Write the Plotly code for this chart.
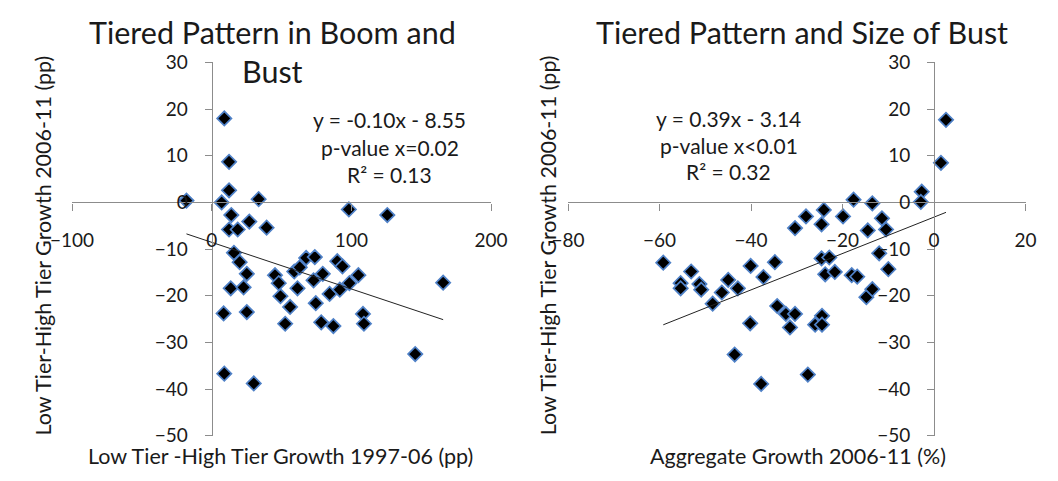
import plotly.graph_objects as go

W, H = 1058, 481
FONT = "Lato"
INK = "#1a1a1a"
AXIS_GREY = "#8c8c8c"

# Left panel: boom-period tier gap (x) vs bust-period tier gap (y)
left_x = [-18.1, 9.0, 12.4, 12.4, 7.1, 33.6, 14.0, 12.4, 18.6, 26.9, 39.3, 98.2, 125.7,
          15.9, 20.0, 25.1, 13.6, 22.8, 8.5, 25.1, 9.0, 30.1, 45.3, 48.0, 49.2, 56.1,
          52.6, 59.1, 63.0, 61.4, 67.6, 73.8, 72.9, 79.5, 74.5, 78.4, 84.4, 87.1, 89.9,
          93.6, 91.7, 98.6, 105.0, 108.3, 109.0, 145.7, 165.7]
left_y = [0.4, 18.0, 8.7, 2.6, 0.0, 0.7, -2.7, -5.8, -5.8, -4.1, -5.4, -1.5, -2.7,
          -10.8, -12.8, -15.3, -18.4, -18.2, -23.8, -23.5, -36.7, -38.8, -15.6, -17.3,
          -20.1, -22.4, -26.0, -14.8, -13.9, -18.4, -11.9, -11.7, -16.7, -15.3, -21.6,
          -25.7, -19.6, -26.5, -12.6, -13.7, -18.7, -17.3, -15.6, -23.9, -26.0, -32.5,
          -17.2]

# Right panel: aggregate growth (x) vs bust-period tier gap (y)
right_x = [2.6, 1.5, -2.7, -2.9, -17.6, -13.5, -24.1, -28.0, -19.9, -11.4, -30.4, -24.6,
           -14.5, -10.5, -12.0, -59.2, -53.1, -55.4, -55.4, -51.3, -50.9, -45.0, -46.4,
           -42.9, -48.4, -40.1, -37.3, -34.8, -40.2, -43.6, -37.8, -34.3, -32.4, -30.4,
           -31.5, -27.6, -26.0, -24.5, -24.5, -24.6, -22.9, -23.8, -21.7, -18.0, -16.8,
           -14.8, -13.5, -10.0]
right_y = [17.7, 8.5, 2.3, 0.1, 0.6, -0.2, -1.6, -3.0, -3.0, -3.4, -5.5, -4.7, -6.0,
           -5.8, -10.9, -12.9, -14.8, -17.3, -18.4, -17.5, -18.7, -16.6, -19.3, -18.4,
           -21.7, -13.6, -16.0, -12.8, -25.9, -32.6, -38.9, -22.2, -23.9, -23.9, -26.8,
           -36.9, -26.2, -24.3, -26.2, -12.0, -11.8, -15.4, -14.9, -15.6, -15.9, -20.3,
           -18.6, -14.3]

# Regression results printed on each panel
left_fit = (-0.10, -8.55)
right_fit = (0.39, -3.14)
left_stats = ["y = -0.10x - 8.55", "p-value x=0.02", "R\u00b2 = 0.13"]
right_stats = ["y = 0.39x - 3.14", "p-value x<0.01", "R\u00b2 = 0.32"]

left_xrange, right_xrange = [-100, 200], [-80, 20]
yrange = [-50, 30]

# plot-area placement in pixels
L_X0, L_X1 = 52, 487
R_X0, R_X1 = 567, 1042
Y_TOP, Y_BOT = 53, 445

def fx(px):
    return px / W

def fy(py):
    return 1 - py / H

ydom = [fy(Y_BOT), fy(Y_TOP)]
ldom = [fx(L_X0), fx(L_X1)]
rdom = [fx(R_X0), fx(R_X1)]

def cross(dom, rng, v=0.0):
    return dom[0] + (v - rng[0]) / (rng[1] - rng[0]) * (dom[1] - dom[0])

marker = dict(symbol="diamond", size=11, color="black",
              line=dict(color="#4f81c7", width=1.7))

fig = go.Figure()
fig.add_trace(go.Scatter(x=left_x, y=left_y, mode="markers", marker=marker,
                         xaxis="x", yaxis="y", showlegend=False))
fig.add_trace(go.Scatter(x=right_x, y=right_y, mode="markers", marker=marker,
                         xaxis="x2", yaxis="y2", showlegend=False))

for xs, fit, xa, ya in [(left_x, left_fit, "x", "y"), (right_x, right_fit, "x2", "y2")]:
    lo, hi = min(xs), max(xs)
    fig.add_trace(go.Scatter(x=[lo, hi], y=[fit[0] * lo + fit[1], fit[0] * hi + fit[1]],
                             mode="lines", line=dict(color="#222", width=1),
                             xaxis=xa, yaxis=ya, showlegend=False, hoverinfo="skip"))

tickfont = dict(family=FONT, size=19, color=INK)
common = dict(showgrid=False, zeroline=False, showline=True, linecolor=AXIS_GREY,
              linewidth=1.2, ticks="outside", ticklen=7, tickcolor=AXIS_GREY,
              tickfont=tickfont, anchor="free")

fig.update_layout(
    width=W, height=H, margin=dict(l=0, r=0, t=0, b=0),
    paper_bgcolor="white", plot_bgcolor="white",
    xaxis=dict(domain=ldom, range=left_xrange, dtick=100,
               position=cross(ydom, yrange), ticklabelstandoff=14, **common),
    yaxis=dict(domain=ydom, range=yrange, dtick=10,
               position=cross(ldom, left_xrange), ticklabelstandoff=13, **common),
    xaxis2=dict(domain=rdom, range=right_xrange, dtick=20,
                position=cross(ydom, yrange), ticklabelstandoff=14, **common),
    yaxis2=dict(domain=ydom, range=yrange, dtick=10,
                position=cross(rdom, right_xrange), ticklabelstandoff=13, **common),
)

ann = []

def text(s, px, py, size, angle=0):
    ann.append(dict(text=s, x=fx(px), y=fy(py), xref="paper", yref="paper",
                    xanchor="center", yanchor="middle", showarrow=False,
                    textangle=angle, font=dict(family=FONT, size=size, color=INK)))

# panel titles
text("Tiered Pattern in Boom and", 260, 21, 30.5)
text("Bust", 260, 62, 30.5)
text("Tiered Pattern and Size of Bust", 810, 21, 30.5)

# regression annotations
for i, s in enumerate(left_stats):
    text(s, 382, 113 + 29 * i, 21)
for i, s in enumerate(right_stats):
    text(s, 734, 112 + 28 * i, 21)

# axis titles
text("Low Tier -High Tier Growth 1997-06 (pp)", 268, 466, 21.5)
text("Aggregate Growth 2006-11 (%)", 806, 466, 21.5)
text("Low Tier-High Tier Growth 2006-11 (pp)", 22, 245, 21.5, -90)
text("Low Tier-High Tier Growth 2006-11 (pp)", 546, 245, 21.5, -90)

fig.update_layout(annotations=ann)
fig.write_html("out.html")
